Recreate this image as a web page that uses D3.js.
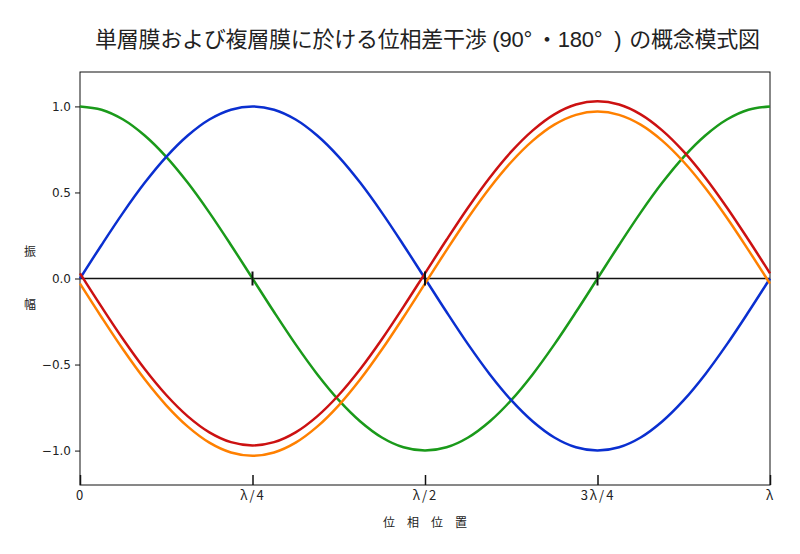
<!DOCTYPE html>
<html><head><meta charset="utf-8">
<script src="https://cdn.jsdelivr.net/npm/d3@7"></script>
<style>
body{margin:0;background:#fff;}
svg{display:block;}
text{font-family:"Noto Sans CJK JP","Noto Sans",sans-serif;fill:#222;}
</style></head>
<body>
<svg id="chart" width="800" height="554"></svg>
<script>
// phase positions (fraction of wavelength), 33 samples
const phase = [0,0.03125,0.0625,0.09375,0.125,0.15625,0.1875,0.21875,0.25,0.28125,0.3125,0.34375,0.375,0.40625,0.4375,0.46875,0.5,0.53125,0.5625,0.59375,0.625,0.65625,0.6875,0.71875,0.75,0.78125,0.8125,0.84375,0.875,0.90625,0.9375,0.96875,1];
const blueWave = [0,0.195,0.383,0.556,0.707,0.831,0.924,0.981,1.0,0.981,0.924,0.831,0.707,0.556,0.383,0.195,0,-0.195,-0.383,-0.556,-0.707,-0.831,-0.924,-0.981,-1.0,-0.981,-0.924,-0.831,-0.707,-0.556,-0.383,-0.195,0];
const greenWave = [1.0,0.981,0.924,0.831,0.707,0.556,0.383,0.195,0,-0.195,-0.383,-0.556,-0.707,-0.831,-0.924,-0.981,-1.0,-0.981,-0.924,-0.831,-0.707,-0.556,-0.383,-0.195,0,0.195,0.383,0.556,0.707,0.831,0.924,0.981,1.0];
const redWave = [0.03,-0.165,-0.353,-0.526,-0.677,-0.801,-0.894,-0.951,-0.97,-0.951,-0.894,-0.801,-0.677,-0.526,-0.353,-0.165,0.03,0.225,0.413,0.586,0.737,0.861,0.954,1.011,1.03,1.011,0.954,0.861,0.737,0.586,0.413,0.225,0.03];
const orangeWave = [-0.03,-0.225,-0.413,-0.586,-0.737,-0.861,-0.954,-1.011,-1.03,-1.011,-0.954,-0.861,-0.737,-0.586,-0.413,-0.225,-0.03,0.165,0.353,0.526,0.677,0.801,0.894,0.951,0.97,0.951,0.894,0.801,0.677,0.526,0.353,0.165,-0.03];
const xTickValues = [0,0.25,0.5,0.75,1];
const xTickLabels = ["0","λ/4","λ/2","3λ/4","λ"];
const yTickValues = [-1.0,-0.5,0.0,0.5,1.0];
const titleParts = ["単層膜および複層膜に於ける位相差干渉 (90°","・","180°",")","の概念模式図"];
const xLabelText = "位　相　位　置";
const yLabelChars = ["振","幅"];

const svg = d3.select("#chart");
const L=80,R=770,T=72,B=485;
const x = d3.scaleLinear().domain([0,1]).range([L,R]);
const y = d3.scaleLinear().domain([-1.2,1.2]).range([B,T]);

// title
const title = svg.append("text").attr("x",95).attr("y",47)
  .attr("textLength",665).attr("lengthAdjust","spacing")
  .style("font-size","22px").style("font-family","'Liberation Sans','Noto Sans CJK JP',sans-serif").attr("fill","#222");
title.append("tspan").text(titleParts[0]);
title.append("tspan").attr("dx",4).style("font-family","'Noto Sans CJK JP'").text(titleParts[1]);
title.append("tspan").text(titleParts[2]);
title.append("tspan").attr("dx",12).text(titleParts[3]);
title.append("tspan").attr("dx",8).text(titleParts[4]);

// frame
svg.append("rect").attr("x",L).attr("y",T).attr("width",R-L).attr("height",B-T)
  .attr("fill","none").attr("stroke","#111").attr("stroke-width",1);

// y axis
const yAxis = d3.axisLeft(y).tickValues(yTickValues).tickFormat(d3.format(".1f")).tickSize(5).tickPadding(4);
const gy = svg.append("g").attr("transform",`translate(${L},0)`).call(yAxis);
gy.select(".domain").remove();
gy.selectAll("text").style("font-family","'DejaVu Sans',sans-serif").style("font-size","12px").attr("fill","#222");
gy.selectAll("line").attr("stroke","#111");

// x axis (ticks inward)
const xAxis = d3.axisBottom(x).tickValues(xTickValues).tickFormat((d,i)=>xTickLabels[i]).tickSizeInner(-10).tickSizeOuter(0).tickPadding(6);
const gx = svg.append("g").attr("transform",`translate(0,${B})`).call(xAxis);
gx.select(".domain").remove();
gx.selectAll("line").attr("stroke","#111").attr("stroke-width",1.5);
gx.selectAll("text").style("font-size","13px").style("letter-spacing","2px").attr("fill","#222");

// zero line
svg.append("line").attr("x1",x(0)).attr("x2",x(1)).attr("y1",y(0)).attr("y2",y(0))
  .attr("stroke","#111").attr("stroke-width",1.5);

// lines
const line = d3.line().x((d,i)=>x(phase[i])).y(d=>y(d)).curve(d3.curveCatmullRom);
const series = [
  {v:greenWave,c:"#1a9a1a"},
  {v:blueWave,c:"#0a2fd0"},
  {v:orangeWave,c:"#ff8000"},
  {v:redWave,c:"#cc1111"}
];
svg.selectAll(".wave").data(series).enter().append("path")
  .attr("d",d=>line(d.v)).attr("fill","none").attr("stroke",d=>d.c).attr("stroke-width",2.5);

// zero-line ticks on top
svg.selectAll(".zt").data(xTickValues.slice(1,4)).enter().append("line")
  .attr("x1",d=>x(d)).attr("x2",d=>x(d)).attr("y1",y(0)-7).attr("y2",y(0)+7)
  .attr("stroke","#111").attr("stroke-width",2);

// axis labels
svg.append("text").attr("x",425).attr("y",527).attr("text-anchor","middle")
  .style("font-size","12px").text(xLabelText);
svg.selectAll(".yl").data(yLabelChars).enter().append("text")
  .attr("x",30).attr("y",(d,i)=>i===0?256:309).attr("text-anchor","middle")
  .style("font-size","12px").text(d=>d);
</script>
</body></html>
